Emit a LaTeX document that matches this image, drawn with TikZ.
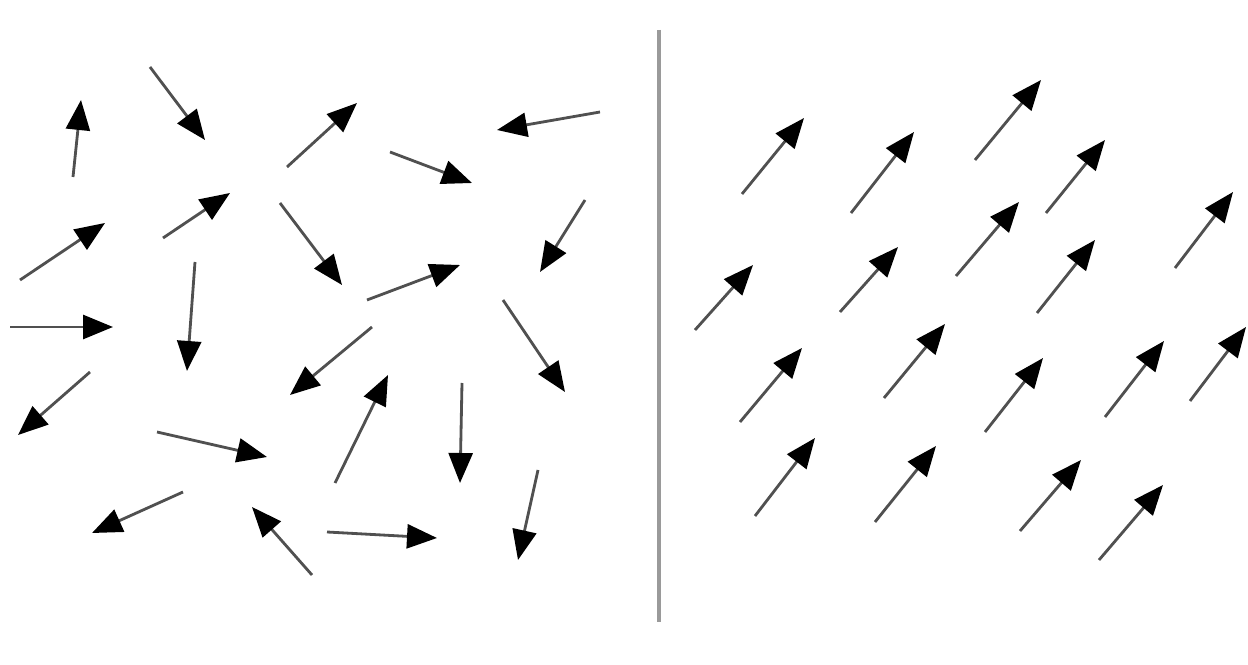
\documentclass[tikz,border=0pt]{standalone}
\usetikzlibrary{arrows.meta}
\begin{document}
\begin{tikzpicture}[x=0.02cm,y=-0.02cm]
  \definecolor{spinshaft}{HTML}{505050}
  \definecolor{spinhead}{HTML}{000000}
  \definecolor{spinwall}{HTML}{9A9A9A}
  \tikzset{spin/.style={draw=spinshaft,line width=1.6pt,
      -{Triangle[length=0.6cm,width=0.48cm,color=spinhead]}}}

  % Left half: disordered moments
  \foreach \xa/\ya/\xb/\yb in {
    73/177/81/100, 150/67/205/140, 287/167/357/103, 390/152/472/183,
    600/112/497/130, 20/280/105/223, 163/238/230/193, 280/203/342/285,
    585/200/540/272, 10/327/113/327, 195/262/187/371, 367/300/460/265,
    503/300/565/392, 90/372/18/435, 372/327/290/395, 157/432/267/457,
    335/483/388/375, 462/383/460/483, 183/492/92/533, 312/575/252/507,
    327/532/437/538, 538/470/518/560}{
    \draw[spin] (\xa,\ya) -- (\xb,\yb);
  }

  % Divider
  \draw[spinwall,line width=1.8pt] (659,30) -- (659,622);

  % Right half: aligned moments
  \foreach \xa/\ya/\xb/\yb in {
    742/194/804/118, 851/213/914/132, 975/160/1041/80, 1046/213/1105/140,
    1175/268/1233/192, 695/330/753/265, 840/312/898/247, 956/276/1019/202,
    1037/313/1095/240, 740/422/802/348, 884/398/945/324, 985/432/1043/358,
    1105/417/1164/341, 1190/401/1246/327, 755/516/815/438, 875/522/936/446,
    1020/531/1081/460, 1099/560/1163/485}{
    \draw[spin] (\xa,\ya) -- (\xb,\yb);
  }

  \path[use as bounding box] (0,0) rectangle (1248,665);
\end{tikzpicture}
\end{document}
